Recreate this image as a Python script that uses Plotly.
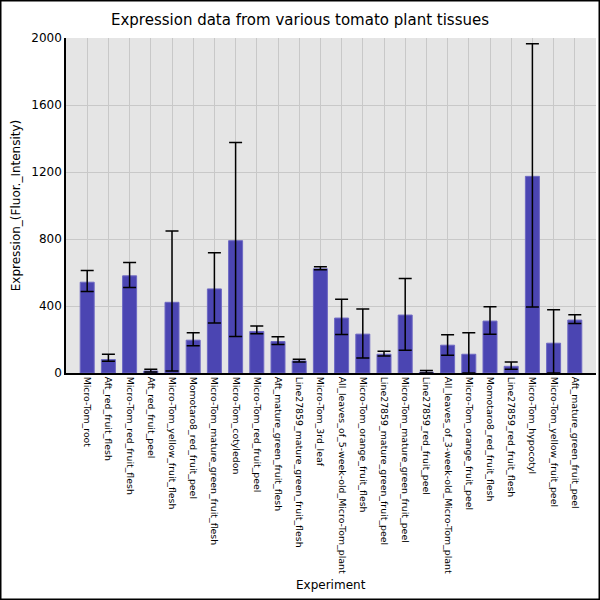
import plotly.graph_objects as go

# Tissue names in chart order
tissues = [
    "Micro-Tom_root", "Aft_red_fruit_flesh", "Micro-Tom_red_fruit_flesh",
    "Aft_red_fruit_peel", "Micro-Tom_yellow_fruit_flesh", "Momotaro8_red_fruit_peel",
    "Micro-Tom_mature_green_fruit_flesh", "Micro-Tom_cotyledon", "Micro-Tom_red_fruit_peel",
    "Aft_mature_green_fruit_flesh", "Line27859_mature_green_fruit_flesh", "Micro-Tom_3rd_leaf",
    "All_leaves_of_5-week-old_Micro-Tom_plant", "Micro-Tom_orange_fruit_flesh",
    "Line27859_mature_green_fruit_peel", "Micro-Tom_mature_green_fruit_peel",
    "Line27859_red_fruit_peel", "All_leaves_of_3-week-old_Micro-Tom_plant",
    "Micro-Tom_orange_fruit_peel", "Momotaro8_red_fruit_flesh", "Line27859_red_fruit_flesh",
    "Micro-Tom_hypocotyl", "Micro-Tom_yellow_fruit_peel", "Aft_mature_green_fruit_peel",
]

# mean expression and the ends of the error bars
expression = [542, 80, 580, 12, 422, 196, 502, 790, 248, 188, 72, 622,
              328, 232, 112, 346, 5, 166, 112, 310, 40, 1174, 178, 316]
err_top = [612, 112, 660, 22, 848, 240, 718, 1376, 280, 216, 82, 634,
           440, 382, 130, 564, 15, 228, 240, 396, 66, 1966, 378, 348]
err_bottom = [486, 70, 510, 6, 12, 162, 298, 218, 234, 170, 65, 616,
              230, 90, 102, 136, 0, 106, 0, 232, 22, 394, 0, 296]

y_ticks = [0, 400, 800, 1200, 1600, 2000]

plus = [t - m for t, m in zip(err_top, expression)]
minus = [m - b for m, b in zip(expression, err_bottom)]

fig = go.Figure(
    go.Bar(
        x=tissues, y=expression,
        marker=dict(color="rgb(75,69,178)", line=dict(color="rgb(110,105,195)", width=1)),
        error_y=dict(type="data", symmetric=False, array=plus, arrayminus=minus,
                     color="black", thickness=1.5, width=6.5),
    )
)

ml, mr, mt, mb = 66, 4, 38, 227
pw, ph = 600 - ml - mr, 600 - mt - mb

fig.update_layout(
    width=600, height=600,
    margin=dict(l=ml, r=mr, t=mt, b=mb, autoexpand=False),
    paper_bgcolor="white", plot_bgcolor="rgb(229,229,229)",
    font=dict(family="DejaVu Sans", color="black"),
    bargap=0.34, showlegend=False,
    title=dict(text="Expression data from various tomato plant tissues",
               x=0.5, xref="container", xanchor="center",
               y=1 - 20 / 600, yref="container", yanchor="middle",
               font=dict(size=15)),
    xaxis=dict(range=[-1, 24], tickangle=90, tickfont=dict(size=9.4),
               showgrid=True, gridcolor="rgb(200,200,200)", gridwidth=1,
               showline=True, linecolor="black", linewidth=1.5,
               ticks="", automargin=False, fixedrange=True),
    yaxis=dict(range=[0, 2000], tickvals=y_ticks, tickfont=dict(size=12),
               showgrid=True, gridcolor="rgb(200,200,200)", gridwidth=1,
               showline=True, linecolor="black", linewidth=1.5, zeroline=False,
               ticks="", automargin=False,
               title=dict(text="Expression_(Fluor._Intensity)",
                          font=dict(size=12), standoff=8)),
    annotations=[dict(text="Experiment", xref="paper", yref="paper",
                      x=0.5, y=-(585 - (mt + ph)) / ph, showarrow=False,
                      xanchor="center", yanchor="middle", font=dict(size=12))],
    shapes=[dict(type="rect", xref="paper", yref="paper",
                 x0=-(ml - 0.75) / pw, x1=1 + (mr - 0.75) / pw,
                 y0=-(mb - 0.75) / ph, y1=1 + (mt - 0.75) / ph,
                 line=dict(color="black", width=1.5), layer="above")],
)

# drop the browser's default body margin so the figure sits at the page corner
fig.write_html("out.html", config={"displayModeBar": False},
               post_script="document.body.style.margin='0';")
